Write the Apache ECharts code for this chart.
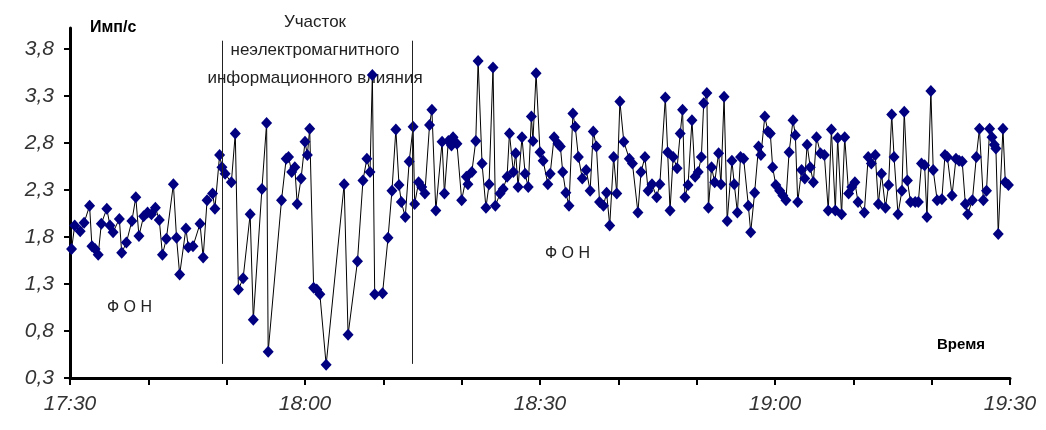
<!DOCTYPE html>
<html>
<head>
<meta charset="utf-8">
<script src="https://cdn.jsdelivr.net/npm/echarts@6/dist/echarts.min.js"></script>
<style>
  html, body { margin: 0; padding: 0; background: #ffffff; }
  #chart { width: 1046px; height: 430px; }
</style>
</head>
<body>
<div id="chart"></div>
<script>
// Minutes elapsed since 17:30 for every reading
const minutes = [
  0.2, 0.6, 1.3, 1.8, 2.5, 2.8, 3.2, 3.6, 4.0, 4.7, 5.1, 5.5, 6.3, 6.6, 7.2, 7.9, 8.4, 8.8, 9.4, 9.9,
  10.4, 10.9, 11.4, 11.8, 12.3, 13.2, 13.6, 14.0, 14.8, 15.1, 15.7, 16.6, 17.0, 17.5, 18.2, 18.5, 19.1, 19.4, 19.8,
  20.6, 21.1, 21.5, 22.1, 23.0, 23.4, 24.5, 25.1, 25.3, 27.0, 27.6, 27.9, 28.3, 28.7, 29.0, 29.5,
  30.0, 30.3, 30.6, 31.1, 31.5, 31.9, 32.7, 35.0, 35.5, 36.7, 37.4, 37.9, 38.3, 38.6, 38.9, 39.9,
  40.6, 41.1, 41.6, 42.0, 42.3, 42.8, 43.3, 43.8, 44.0,
  44.5, 44.9, 45.3, 45.9, 46.2, 46.7, 47.5, 47.8, 48.3, 48.7, 48.9, 49.4, 50.0, 50.6, 50.8, 51.3,
  51.8, 52.1, 52.6, 53.1, 53.5, 54.0, 54.3, 54.9, 55.3, 55.8, 56.1, 56.6, 56.9, 57.2, 57.7, 58.1,
  58.5, 58.9, 59.1, 59.5, 60.0, 60.4, 61.0, 61.3, 61.8, 62.3,
  62.6, 62.9, 63.3, 63.7, 64.2, 64.5, 64.9, 65.4, 65.9, 66.4, 66.8, 67.2, 67.6, 68.1, 68.5, 68.9,
  69.4, 69.8, 70.2, 70.7, 71.4, 71.8, 72.5, 72.9, 73.4, 73.8, 74.3, 74.9, 75.3, 76.0, 76.3, 76.6,
  77.0, 77.5, 77.9, 78.2, 78.5, 78.9, 79.4, 79.8, 80.2, 80.6, 80.9, 81.3, 81.5,
  81.9, 82.3, 82.8, 83.1, 83.5, 83.9, 84.5, 84.8, 85.2, 85.6, 86.0, 86.6, 86.9, 87.4, 87.9, 88.2,
  88.7, 89.1, 89.4, 89.7, 90.1, 90.6, 91.0, 91.4, 91.8, 92.3, 92.6, 92.9, 93.4, 93.8, 94.1, 94.5,
  94.9, 95.3, 95.8, 96.3, 96.8, 97.2, 97.7, 98.0, 98.5, 98.9, 99.4, 99.8, 100.2, 100.6,
  101.4, 101.9, 102.3, 102.8, 103.2, 103.6, 104.1, 104.5, 104.9, 105.2, 105.7, 106.2, 106.5, 106.9,
  107.3, 107.9, 108.3, 108.7, 109.1, 109.4, 109.9, 110.2, 110.7, 111.3, 111.7, 112.0, 112.6, 113.1,
  113.5, 113.9, 114.3, 114.6, 115.2, 115.7, 116.1, 116.6, 117.0, 117.4, 117.7, 118.0, 118.2, 118.5,
  119.1, 119.4, 119.8
];

// Count rate, pulses per second
const counts = [
  1.67, 1.92, 1.86, 1.95, 2.13, 1.70, 1.67, 1.61, 1.94, 2.10, 1.92, 1.85, 1.99, 1.63, 1.74, 1.97, 2.22, 1.81, 2.02, 2.06,
  2.04, 2.11, 1.98, 1.61, 1.78, 2.36, 1.79, 1.40, 1.89, 1.69, 1.70, 1.94, 1.58, 2.19, 2.26, 2.10, 2.67, 2.54, 2.47,
  2.38, 2.90, 1.24, 1.36, 2.04, 0.92, 2.31, 3.01, 0.58, 2.19, 2.63, 2.65, 2.49, 2.54, 2.15, 2.42,
  2.81, 2.67, 2.95, 1.26, 1.24, 1.19, 0.44, 2.36, 0.76, 1.54, 2.40, 2.63, 2.49, 3.52, 1.19, 1.20,
  1.79, 2.29, 2.94, 2.35, 2.17, 2.01, 2.60, 2.97, 2.15,
  2.38, 2.33, 2.26, 2.99, 3.15, 2.08, 2.81, 2.26, 2.82, 2.77, 2.86, 2.79, 2.19, 2.44, 2.36, 2.49,
  2.82, 3.67, 2.58, 2.11, 2.36, 3.60, 2.13, 2.26, 2.31, 2.44, 2.90, 2.49, 2.69, 2.33, 2.86, 2.47,
  2.33, 3.08, 2.82, 3.54, 2.70, 2.61, 2.36, 2.47, 2.86, 2.79,
  2.76, 2.49, 2.27, 2.13, 3.11, 2.97, 2.65, 2.42, 2.51, 2.29, 2.92, 2.76, 2.17, 2.13, 2.27, 1.92,
  2.65, 2.26, 3.24, 2.81, 2.63, 2.58, 2.06, 2.49, 2.65, 2.29, 2.36, 2.22, 2.36, 3.28, 2.70, 2.08,
  2.65, 2.53, 2.90, 3.15, 2.22, 2.35, 3.04, 2.44, 2.49, 2.65, 3.22, 3.33, 2.11,
  2.54, 2.38, 2.69, 2.36, 3.29, 1.97, 2.61, 2.36, 2.06, 2.65, 2.63, 2.13, 1.85, 2.27, 2.76, 2.67,
  3.08, 2.92, 2.90, 2.54, 2.35, 2.29, 2.24, 2.19, 2.70, 3.04, 2.88, 2.17, 2.51, 2.42, 2.78, 2.54,
  2.38, 2.86, 2.69, 2.67, 2.08, 2.94, 2.08, 2.85, 2.04, 2.86, 2.26, 2.33, 2.38, 2.17,
  2.06, 2.65, 2.58, 2.67, 2.15, 2.47, 2.11, 2.35, 3.10, 2.65, 2.04, 2.29, 3.13, 2.40,
  2.17, 2.17, 2.17, 2.58, 2.56, 2.01, 3.35, 2.51, 2.19, 2.20, 2.67, 2.65, 2.24, 2.63,
  2.61, 2.60, 2.15, 2.04, 2.19, 2.65, 2.95, 2.19, 2.29, 2.95, 2.86, 2.78, 2.74, 1.83,
  2.95, 2.38, 2.35
];

// Time tick labels (every 30 minutes) and the bounds of the influence interval
const timeLabels = ['17:30', '18:00', '18:30', '19:00', '19:30'];
const influenceBounds = [19.4, 43.7];
const yTicks = [0.3, 0.8, 1.3, 1.8, 2.3, 2.8, 3.3, 3.8];

const seriesData = minutes.map((m, i) => [m, counts[i]]);

const chart = echarts.init(document.getElementById('chart'));

const labelFont = {
  fontFamily: 'Liberation Sans, Arial, sans-serif',
  fontStyle: 'italic',
  fontSize: 21,
  color: '#333333'
};

chart.setOption({
  animation: false,
  backgroundColor: '#ffffff',
  grid: { left: 70, right: 36, top: 28, bottom: 52, containLabel: false },
  xAxis: {
    type: 'value',
    min: 0,
    max: 120,
    interval: 10,
    axisLine: { show: true, onZero: false, lineStyle: { color: '#000', width: 3 } },
    axisTick: { show: true, inside: false, length: 7, lineStyle: { color: '#000', width: 2 } },
    splitLine: { show: false },
    axisLabel: Object.assign({
      margin: 16,
      formatter: v => (v % 30 === 0 ? timeLabels[v / 30] : '')
    }, labelFont)
  },
  yAxis: {
    type: 'value',
    min: 0.3,
    max: 4.02,
    axisLine: { show: true, lineStyle: { color: '#000', width: 3 } },
    axisTick: { show: true, inside: false, length: 6, customValues: yTicks, lineStyle: { color: '#000', width: 2 } },
    splitLine: { show: false },
    axisLabel: Object.assign({
      margin: 16,
      customValues: yTicks,
      formatter: v => v.toFixed(1).replace('.', ',')
    }, labelFont)
  },
  series: [{
    type: 'line',
    data: seriesData,
    clip: false,
    symbol: 'diamond',
    symbolSize: [11, 12],
    showAllSymbol: true,
    itemStyle: { color: '#000080' },
    lineStyle: { color: '#000000', width: 1 },
    markLine: {
      silent: true,
      symbol: 'none',
      label: { show: false },
      lineStyle: { color: '#222222', width: 1, type: 'solid' },
      data: influenceBounds.map(b => [
        { coord: [b, 0.45] },
        { coord: [b, 3.885] }
      ])
    }
  }],
  graphic: [
    {
      type: 'text', left: 90, top: 20,
      style: { text: 'Имп/с', fontFamily: 'Liberation Sans, Arial', fontWeight: 'bold', fontSize: 16, fill: '#000' }
    },
    {
      type: 'text', left: 937, top: 337,
      style: { text: 'Время', fontFamily: 'Liberation Sans, Arial', fontWeight: 'bold', fontSize: 15, fill: '#000' }
    },
    {
      type: 'text', x: 315, y: 8,
      style: {
        text: 'Участок\nнеэлектромагнитного\nинформационного влияния',
        align: 'center', verticalAlign: 'top', lineHeight: 28,
        fontFamily: 'Liberation Sans, Arial', fontSize: 17, fill: '#222'
      }
    },
    {
      type: 'text', left: 107, top: 300,
      style: { text: 'Ф О Н', fontFamily: 'Liberation Sans, Arial', fontSize: 16, fill: '#222' }
    },
    {
      type: 'text', left: 545, top: 246,
      style: { text: 'Ф О Н', fontFamily: 'Liberation Sans, Arial', fontSize: 16, fill: '#222' }
    }
  ]
});
</script>
</body>
</html>
